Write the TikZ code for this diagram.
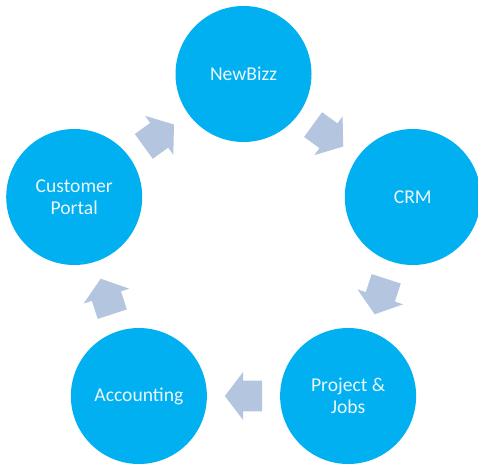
\documentclass[tikz,border=0pt]{standalone}
\usepackage{fontspec}
\setmainfont{Carlito}
\usetikzlibrary{calc}
\definecolor{circblue}{RGB}{0,176,240}
\definecolor{arrowc}{RGB}{180,197,224}
\definecolor{txtc}{RGB}{236,247,253}
\begin{document}
\begin{tikzpicture}[x=1pt,y=1pt,
  stage/.style={circle, fill=circblue, minimum size=136pt, inner sep=0pt,
    text=txtc, font=\fontsize{19.6}{22}\selectfont, align=center},
  pics/blockarr/.style={code={
    \fill[arrowc] (18.7,0) -- (0.4,24) -- (0.4,15.3) -- (-18.6,15.3)
      -- (-18.6,-15.3) -- (0.4,-15.3) -- (0.4,-24) -- cycle;}}]
\useasboundingbox (0,0) rectangle (478,466);
\clip (0,0) rectangle (478,466);
\coordinate (o) at (243.5,214);
\node[stage] (nb) at ($(o)+(90:178)$) {NewBizz};
\node[stage] (crm) at ($(o)+(18:178)$) {CRM};
\node[stage] (pj) at ($(o)+(-54:178)$) {Project \&\\Jobs};
\node[stage] (acc) at ($(o)+(-126:178)$) {Accounting};
\node[stage] (cp) at ($(o)+(162:178)$) {Customer\\Portal};
\foreach \a/\b in {nb/crm, crm/pj, pj/acc, acc/cp, cp/nb}{
  \path let \p1=($(\b)-(\a)$), \n1={atan2(\y1,\x1)} in
    ($(\a)!0.5!(\b)$) pic[rotate=\n1] {blockarr};
}
\end{tikzpicture}
\end{document}
